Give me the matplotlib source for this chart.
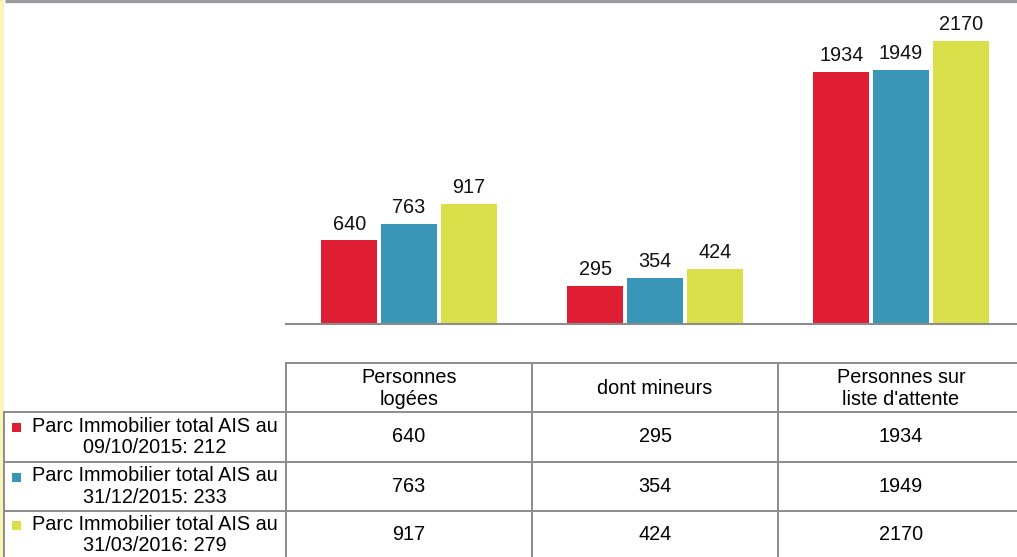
import matplotlib.pyplot as plt
import numpy as np
from matplotlib.patches import Rectangle

plt.rcParams['font.family'] = ['Liberation Sans', 'DejaVu Sans']

# données du graphique
categories = ["Personnes\nlogées", "dont mineurs", "Personnes sur\nliste d'attente"]
series_labels = ["Parc Immobilier total AIS au\n09/10/2015: 212",
                 "Parc Immobilier total AIS au\n31/12/2015: 233",
                 "Parc Immobilier total AIS au\n31/03/2016: 279"]
v_2015_10 = [640, 295, 1934]
v_2015_12 = [763, 354, 1949]
v_2016_03 = [917, 424, 2170]
colors = ['#E01E33', '#3A96B7', '#DAE04A']

W, H = 1017, 557
fig = plt.figure(figsize=(W / 100, H / 100), dpi=100)

# axes des barres, en pixels: gauche 286, largeur 3 x 246, ligne de base y=324
left, right, base, top = 286, 286 + 3 * 246, 324, 3
ax = fig.add_axes([left / W, (H - base) / H, (right - left) / W, (base - top) / H])
ax.set_xlim(-0.5, 2.5)
ax.set_ylim(0, (base - top) / 0.1305)

fs = 14.3
x = np.arange(len(categories))
bw = 0.228
offs = [-0.243, 0.0, 0.243]
for vals, c, o in zip([v_2015_10, v_2015_12, v_2016_03], colors, offs):
    bars = ax.bar(x + o, vals, width=bw, color=c, zorder=2)
    for b, v in zip(bars, vals):
        ax.annotate(str(v), (b.get_x() + b.get_width() / 2, v),
                    xytext=(0, 5), textcoords='offset points',
                    ha='center', va='bottom', fontsize=fs, color='#111111')

for s in ['top', 'right', 'left']:
    ax.spines[s].set_visible(False)
ax.spines['bottom'].set_color('#8C8C8C')
ax.spines['bottom'].set_linewidth(1.5)
ax.set_xticks([])
ax.set_yticks([])

# calque en pixels pour le tableau et le cadre
ov = fig.add_axes([0, 0, 1, 1], zorder=3)
ov.set_xlim(0, W)
ov.set_ylim(H, 0)
ov.axis('off')
ov.patch.set_visible(False)

# bande jaune à gauche et trait gris en haut
ov.add_patch(Rectangle((0, 0), 4, H, color='#F7F4B4', lw=0))
ov.plot([5, W], [1.2, 1.2], color='#9B9B9F', lw=2.4, solid_capstyle='butt')

lc, lw = '#8C8C8C', 1.4
col_x = [286, 532, 778, 1024]
row_y = [363, 412, 462, 511, 561]
ov.plot([286, W], [row_y[0], row_y[0]], color=lc, lw=lw)
for y in row_y[1:4]:
    ov.plot([4, W], [y, y], color=lc, lw=lw)
ov.plot([4, 4], [row_y[1], H], color=lc, lw=lw)
for cx in col_x[:3]:
    ov.plot([cx, cx], [row_y[0], H], color=lc, lw=lw)

# en-têtes de colonnes
for i, cat in enumerate(categories):
    ov.text((col_x[i] + col_x[i + 1]) / 2, (row_y[0] + row_y[1]) / 2 + 1, cat,
            ha='center', va='center', fontsize=fs, linespacing=1.15)

# lignes de données
for r, (lab, vals, c) in enumerate(zip(series_labels,
                                       [v_2015_10, v_2015_12, v_2016_03], colors)):
    yc = (row_y[r + 1] + row_y[r + 2]) / 2
    if r == 2:
        yc = 535
    ov.add_patch(Rectangle((12, yc - 14), 9, 9, color=c, lw=0))
    ov.text(155, yc, lab, ha='center', va='center', fontsize=fs, linespacing=1.15)
    for i, v in enumerate(vals):
        ov.text((col_x[i] + col_x[i + 1]) / 2, yc, str(v),
                ha='center', va='center', fontsize=fs)

fig.savefig('out.png', dpi=100)
